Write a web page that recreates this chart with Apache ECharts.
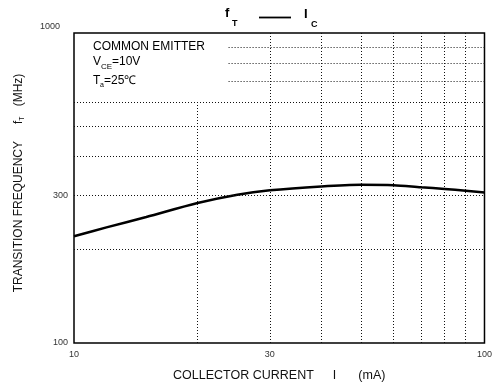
<!DOCTYPE html>
<html>
<head>
<meta charset="utf-8">
<script src="https://cdn.jsdelivr.net/npm/echarts@6/dist/echarts.min.js"></script>
<style>
  html, body { margin: 0; padding: 0; background: #fff; }
  #chart { width: 495px; height: 387px; }
</style>
</head>
<body>
<div id="chart"></div>
<script>
// fT vs IC curve
const currentMA = [10, 12, 15, 20, 25, 30, 40, 50, 60, 70, 80, 90, 100]
const fT = [221, 236, 255, 283, 301, 311, 320, 324, 323, 318, 314, 310, 306]

// axis labels and dotted grid lines
const xLabels = [10, 30, 100]
const yLabels = [100, 300, 1000]
const xGridFull = [30, 40, 50, 60, 70, 80, 90]
const yGridFull = [200, 300, 400, 500, 600]
const yGridShort = [700, 800, 900]   // cut short by the condition box
const boxEdgeX = 23.8                // where the short lines begin
const grid20Top = 600                // 20 mA line stops here

const chart = echarts.init(document.getElementById('chart'))

const FONT = '"Liberation Sans", Arial, sans-serif'
const dotted = { color: '#111', width: 1, type: [1, 2] }

const gridLines = []
xGridFull.forEach(v => gridLines.push({ xAxis: v }))
yGridFull.forEach(v => gridLines.push({ yAxis: v }))
yGridShort.forEach(v => gridLines.push([{ coord: [boxEdgeX, v] }, { coord: [100, v] }]))
gridLines.push([{ coord: [20, 100] }, { coord: [20, grid20Top] }])

// small helper: text pieces with subscripts as graphic elements
function txt (x, y, text, size, bold) {
  return {
    type: 'text',
    left: x,
    top: y,
    silent: true,
    style: {
      text: text,
      fill: '#000',
      font: (bold ? 'bold ' : '') + size + 'px ' + FONT
    }
  }
}

const option = {
  animation: false,
  grid: {
    left: 74,
    right: 7,
    top: 33,
    bottom: 40,
    show: true,
    borderColor: '#000',
    borderWidth: 1.5,
    backgroundColor: 'transparent'
  },
  xAxis: {
    type: 'log',
    logBase: 10,
    min: 10,
    max: 100,
    axisLine: { show: false },
    axisTick: { show: false },
    splitLine: { show: false },
    axisLabel: {
      customValues: xLabels,
      formatter: v => String(v),
      fontSize: 9,
      color: '#333',
      fontFamily: FONT,
      margin: 7
    },
    name: '{n|COLLECTOR CURRENT}{g1|}{n|I}{g2|}{n|(mA)}',
    nameLocation: 'middle',
    nameGap: 26,
    nameTextStyle: {
      rich: {
        n: { fontSize: 12.5, fontFamily: FONT, color: '#111' },
        g1: { width: 19 },
        g2: { width: 22 }
      }
    }
  },
  yAxis: {
    type: 'log',
    logBase: 10,
    min: 100,
    max: 1000,
    axisLine: { show: false },
    axisTick: { show: false },
    splitLine: { show: false },
    axisLabel: {
      customValues: yLabels,
      // the top label sits up and left of the corner in the original
      formatter: v => (v >= 1000 ? '{t|' + v + '}' : String(v)),
      fontSize: 9,
      color: '#333',
      fontFamily: FONT,
      margin: 6,
      rich: {
        t: { fontSize: 9, color: '#333', fontFamily: FONT, padding: [0, 8, 12, 0] }
      }
    },
    name: '{g0|}{n|TRANSITION FREQUENCY}{g1|}{n|f}{s|T}{g2|}{n|(MHz)}',
    nameLocation: 'middle',
    nameGap: 48,
    nameTextStyle: {
      rich: {
        n: { fontSize: 12, fontFamily: FONT, color: '#111', lineHeight: 14 },
        s: { fontSize: 7, fontFamily: FONT, color: '#111', lineHeight: 8, verticalAlign: 'bottom' },
        g0: { width: 10 },
        g1: { width: 17 },
        g2: { width: 10 }
      }
    }
  },
  graphic: [
    // title  fT —— IC
    txt(225, 7, 'f', 13, true),
    txt(232, 19, 'T', 9, true),
    {
      type: 'line',
      silent: true,
      shape: { x1: 259, y1: 17.5, x2: 291, y2: 17.5 },
      style: { stroke: '#000', lineWidth: 1.8 }
    },
    txt(304, 8, 'I', 13, true),
    txt(311, 20, 'C', 9, true),
    // test conditions
    txt(93, 41, 'COMMON EMITTER', 12),
    txt(93, 56, 'V', 12),
    txt(101, 63, 'CE', 8),
    txt(112, 56, '=10V', 12),
    txt(93, 75, 'T', 12),
    txt(100, 82, 'a', 7),
    txt(104, 75, '=25℃', 12)
  ],
  series: [
    {
      type: 'line',
      data: currentMA.map((x, i) => [x, fT[i]]),
      smooth: 0.3,
      showSymbol: false,
      silent: true,
      lineStyle: { color: '#000', width: 2.5 },
      markLine: {
        silent: true,
        symbol: 'none',
        label: { show: false },
        lineStyle: dotted,
        data: gridLines
      }
    }
  ]
}

chart.setOption(option)
</script>
</body>
</html>
